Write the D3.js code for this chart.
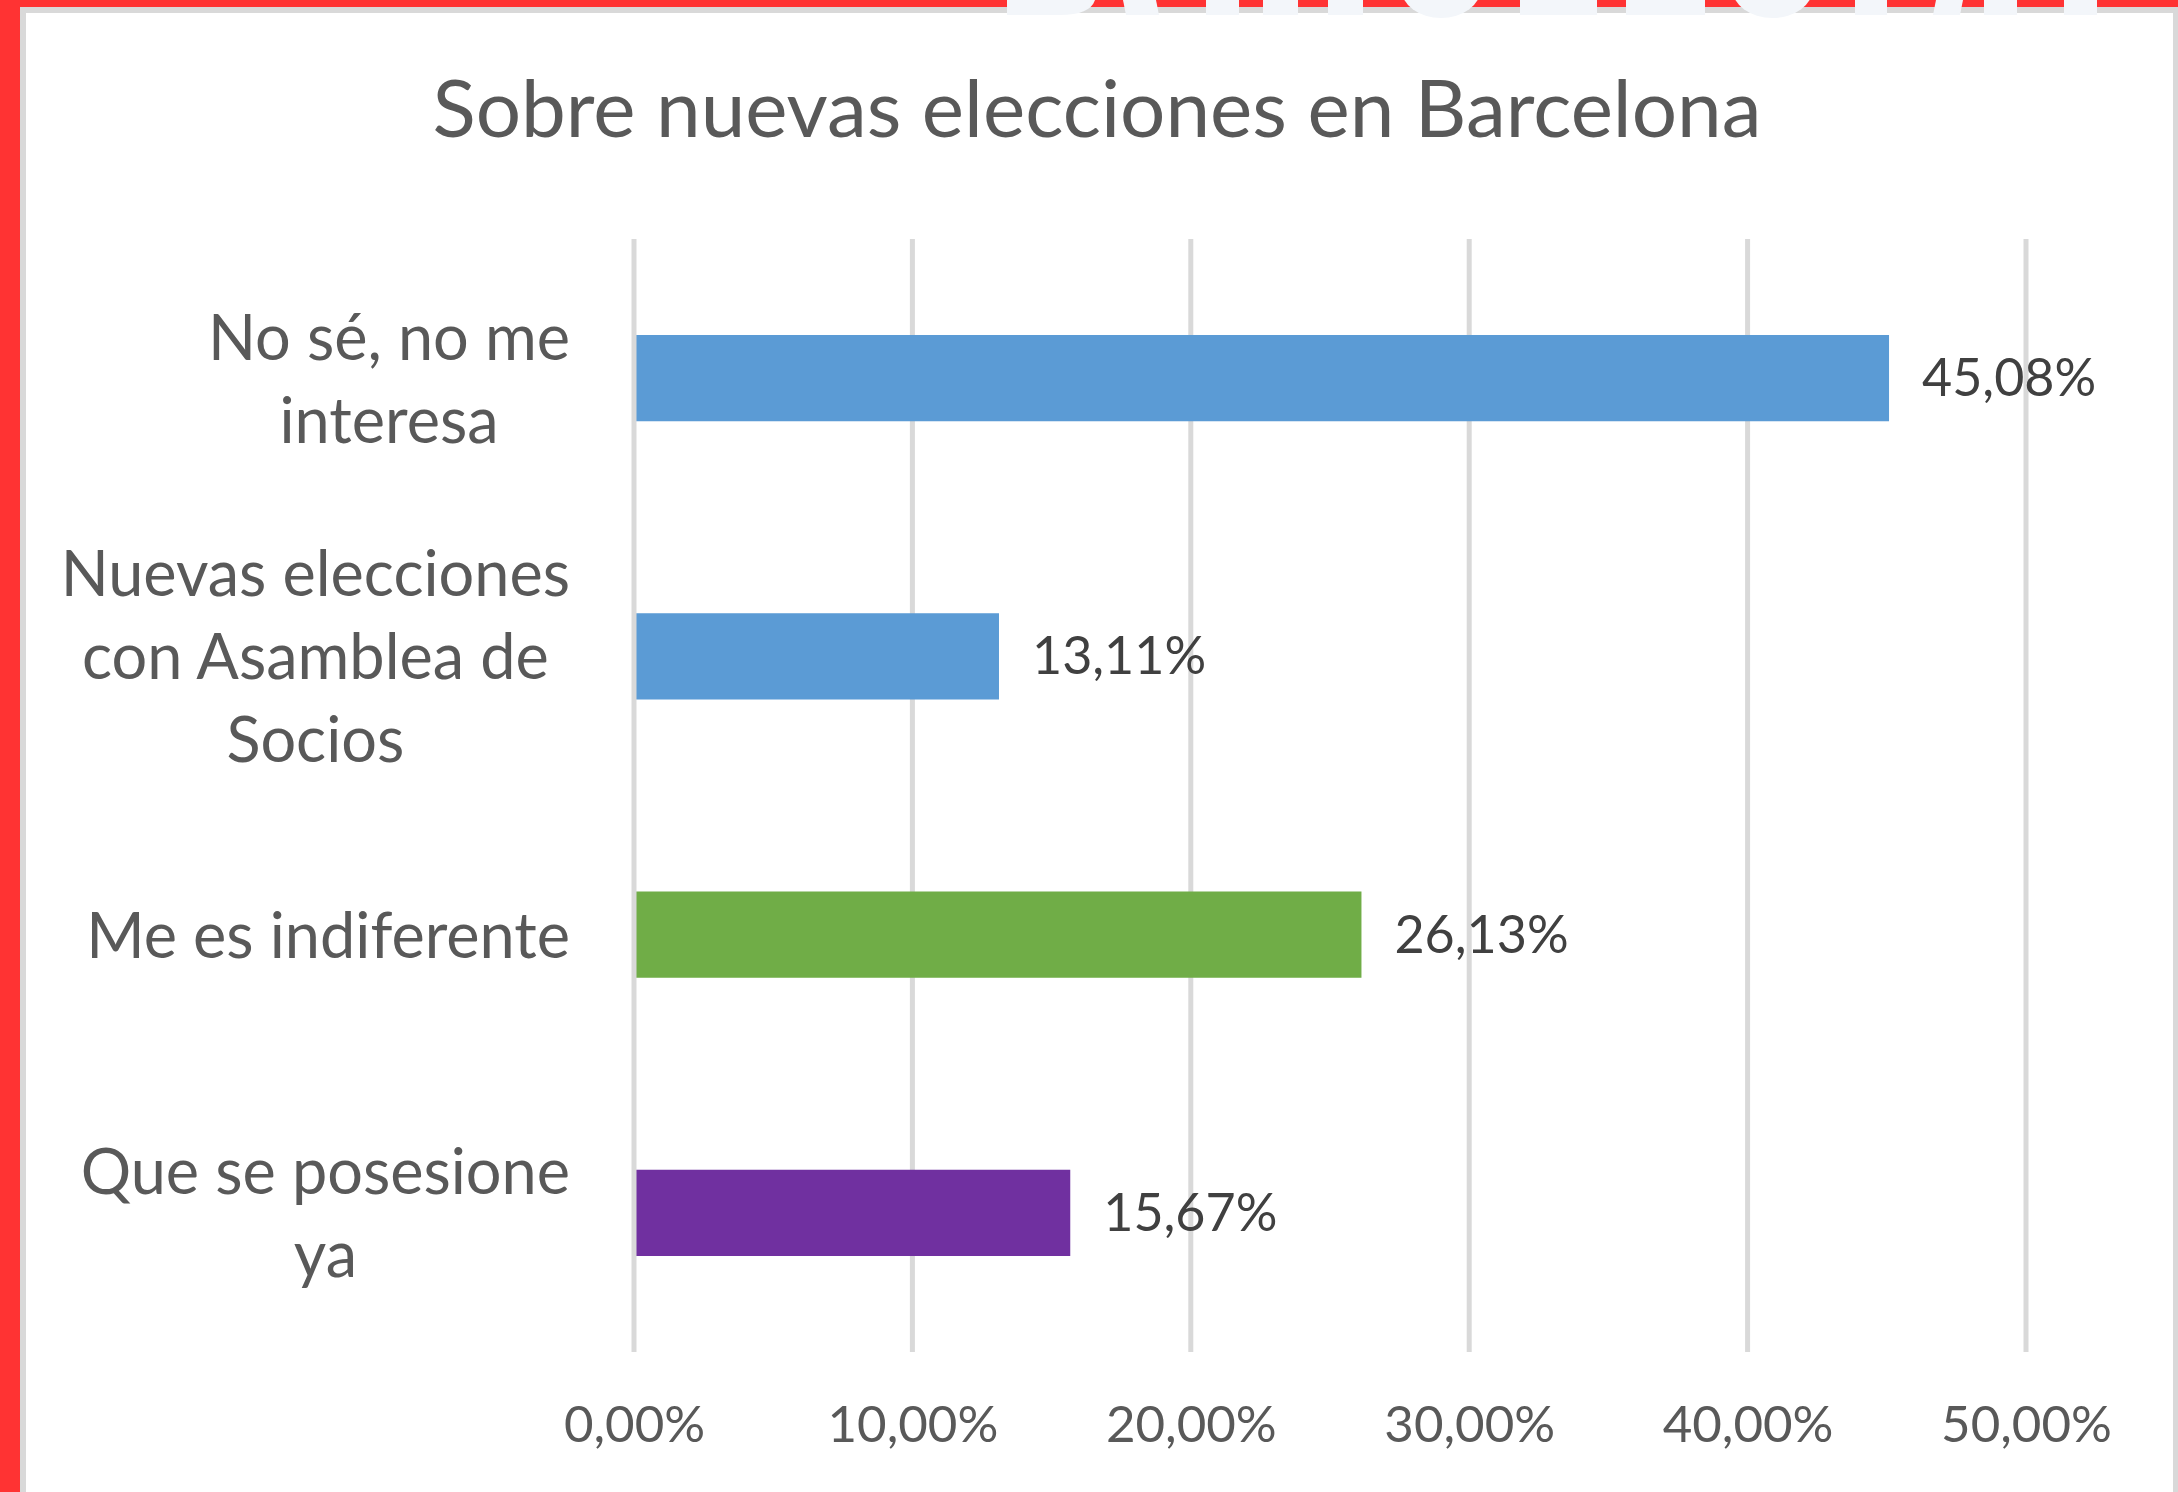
<!DOCTYPE html>
<html>
<head>
<meta charset="utf-8">
<script src="https://cdn.jsdelivr.net/npm/d3@7"></script>
<style>
  html, body { margin: 0; padding: 0; background: #ffffff; }
  svg { display: block; }
  text { font-family: Lato, "Open Sans", sans-serif; }
</style>
</head>
<body>
<svg id="chart" width="2178" height="1492"></svg>
<script>
// ---- data ----
const title = "Sobre nuevas elecciones en Barcelona";
const categories = ["No sé, no me interesa", "Nuevas elecciones con Asamblea de Socios", "Me es indiferente", "Que se posesione ya"];
const categoryLines = [["No sé, no me", "interesa"], ["Nuevas elecciones", "con Asamblea de", "Socios"], ["Me es indiferente"], ["Que se posesione", "ya"]];
const values = [45.08, 13.11, 26.13, 15.67];
const tickValues = [0, 10, 20, 30, 40, 50];

// ---- styles ----
const barColors = ["#5b9bd5", "#5b9bd5", "#70ad47", "#7030a0"];
const W = 2178, H = 1492;
const plot = { left: 634, right: 2026, top: 239, bottom: 1352 };

const svg = d3.select("#chart");
const locale = d3.formatLocale({ decimal: ",", thousands: ".", grouping: [3], currency: ["", "€"] });
const fmt = v => locale.format(".2f")(v) + "%";

// frame: red outer border and light gray inner border
svg.append("rect").attr("x", 0).attr("y", 0).attr("width", W).attr("height", H).attr("fill", "#ff3333");
svg.append("rect").attr("x", 20).attr("y", 7).attr("width", W - 20).attr("height", H - 7).attr("fill", "#d9d9d9");
svg.append("rect").attr("x", 26).attr("y", 13).attr("width", W - 26 - 5).attr("height", H - 13).attr("fill", "#ffffff");

// faint watermark letter bottoms at top edge
const wm = svg.append("g").attr("fill", "#f3f6fa");
const wmRects = [[1126, 1159, 3], [1206, 1239, 0], [1263, 1298, 0], [1328, 1363, 0], [1520, 1597, 0], [1626, 1705, 0], [1855, 1887, 0], [1933, 1960, -3], [1984, 2017, 0], [2064, 2097, 0]];
wmRects.forEach(([a, b, s]) => {
  wm.append("path").attr("d", `M${a - s},0 L${b - s},0 L${b},15 L${a},15 Z`);
});
wm.append("path").attr("d", "M1007,0 L1095,0 Q1090,15 1060,15 L1007,15 Z");
[[1401, 1481], [1732, 1813]].forEach(([a, b]) => {
  wm.append("ellipse").attr("cx", (a + b) / 2).attr("cy", -12).attr("rx", (b - a) / 2).attr("ry", 30);
});

// scales
const x = d3.scaleLinear().domain([0, 50]).range([plot.left, plot.right]);
const y = d3.scaleBand().domain(categories).range([plot.top, plot.bottom]).paddingInner(0.69).paddingOuter(0.345);

// title
svg.append("text").attr("x", 1097).attr("y", 137).attr("text-anchor", "middle")
  .attr("font-size", 80).attr("fill", "#595959").text(title);

// gridlines
svg.append("g").selectAll("line").data(tickValues.slice(1)).join("line")
  .attr("x1", d => x(d)).attr("x2", d => x(d))
  .attr("y1", plot.top).attr("y2", plot.bottom)
  .attr("stroke", "#d9d9d9").attr("stroke-width", 5);

// bars
svg.append("g").selectAll("rect").data(values).join("rect")
  .attr("x", x(0))
  .attr("y", (d, i) => y(categories[i]))
  .attr("width", d => x(d) - x(0))
  .attr("height", y.bandwidth())
  .attr("fill", (d, i) => barColors[i]);

// vertical axis line at 0
svg.append("line").attr("x1", x(0)).attr("x2", x(0)).attr("y1", plot.top).attr("y2", plot.bottom)
  .attr("stroke", "#d9d9d9").attr("stroke-width", 5);

// data labels
svg.append("g").selectAll("text").data(values).join("text")
  .attr("x", d => x(d) + 33)
  .attr("y", (d, i) => y(categories[i]) + y.bandwidth() / 2 + 18)
  .attr("font-size", 52).attr("fill", "#404040")
  .text(d => fmt(d));

// x axis tick labels
const xAxis = d3.axisBottom(x).tickValues(tickValues).tickSize(0).tickFormat(d => fmt(d));
const gx = svg.append("g").attr("transform", `translate(0,${plot.bottom})`).call(xAxis);
gx.select(".domain").remove();
gx.selectAll("text").attr("font-family", "Lato, sans-serif").attr("font-size", 51).attr("fill", "#595959")
  .attr("dy", null).attr("y", 90);

// category labels (wrapped, lines centered, block right-aligned)
const lh = 83;
const labelRight = 570;
categoryLines.forEach((lines, i) => {
  const cy = y(categories[i]) + y.bandwidth() / 2;
  const g = svg.append("g");
  const ts = lines.map((ln, j) => g.append("text")
    .attr("y", cy + 23 + (j - (lines.length - 1) / 2) * lh)
    .attr("font-size", 63).attr("fill", "#595959").attr("text-anchor", "middle").text(ln));
  const maxW = d3.max(ts, t => t.node().getComputedTextLength());
  ts.forEach(t => t.attr("x", labelRight - maxW / 2));
});
</script>
</body>
</html>
